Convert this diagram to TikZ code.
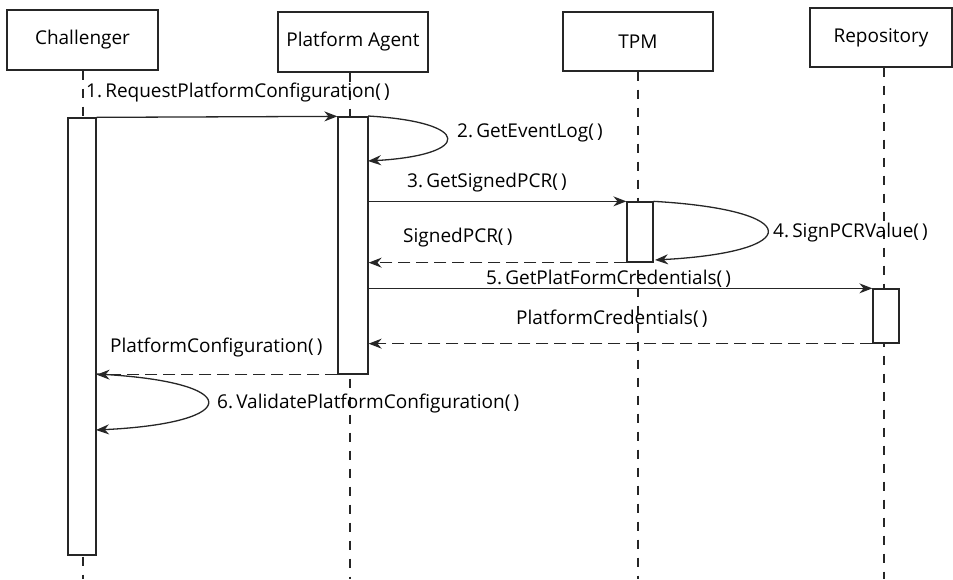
\documentclass[tikz,border=0pt]{standalone}
\usepackage{fontspec}
\setmainfont{Open Sans}
\usetikzlibrary{arrows.meta}
\begin{document}
\begin{tikzpicture}[x=1pt,y=-1pt,
  lifebox/.style={draw=black!85,line width=1.3pt,fill=white,inner sep=0pt,font=\fontsize{19}{22}\selectfont},
  actbox/.style={draw=black!85,line width=1.3pt,fill=white,inner sep=0pt},
  lifeline/.style={draw=black!85,line width=1.2pt,dash pattern=on 9pt off 9pt},
  msg/.style={draw=black!85,line width=1.3pt,-{Stealth[length=13pt,width=10pt]}},
  ret/.style={msg,dash pattern=on 12pt off 6pt},
  lbl/.style={inner sep=0pt,anchor=base west,font=\fontsize{19}{22}\selectfont}]
\useasboundingbox (0,0) rectangle (953,579);
% lifeline heads
\node[lifebox,minimum width=151pt,minimum height=60pt] (C) at (82.5,40) {Challenger};
\node[lifebox,minimum width=150pt,minimum height=60pt] (A) at (353,42) {Platform Agent};
\node[lifebox,minimum width=150pt,minimum height=59pt] (T) at (638,41.5) {TPM};
\node[lifebox,minimum width=142pt,minimum height=59pt] (R) at (881,37.5) {Repository};
% lifeline ends
\coordinate (Ce) at (83,579);
\coordinate (Ae) at (350,579);
\coordinate (Te) at (638,579);
\coordinate (Re) at (884,579);
\draw[lifeline] (C.south -| Ce) -- (Ce);
\draw[lifeline] (A.south -| Ae) -- (Ae);
\draw[lifeline] (T.south -| Te) -- (Te);
\draw[lifeline] (R.south -| Re) -- (Re);
% activations
\node[actbox,minimum width=28pt,minimum height=437pt] (aC) at (82,336.5) {};
\node[actbox,minimum width=30pt,minimum height=257pt] (aA) at (353,245.5) {};
\node[actbox,minimum width=26pt,minimum height=60pt] (aT) at (640,232) {};
\node[actbox,minimum width=26pt,minimum height=54pt] (aR) at (886,316) {};
% message anchors
\coordinate (m2s) at (368,116);
\coordinate (m2e) at (368,161);
\coordinate (m4e) at (655,260);
\coordinate (m6s) at (96,374);
\coordinate (m6e) at (96,430);
% 1
\draw[msg] (aC.north east) -- (aA.north west);
\node[lbl] (l1) at (86,97) {1.\,RequestPlatformConfiguration(\,)};
% 2
\draw[msg] (m2s) .. controls (473,122) and (473,155) .. (m2e);
\node[lbl] (l2) at (457,137) {2.\,GetEventLog(\,)};
% 3
\draw[msg] (aA.east |- aT.north) -- (aT.north west);
\node[lbl] (l3) at (407,187) {3.\,GetSignedPCR(\,)};
% 4
\draw[msg] (aT.north east) .. controls (805,210) and (805,252) .. (m4e);
\node[lbl] (l4) at (773,237) {4.\,SignPCRValue(\,)};
% return SignedPCR
\draw[ret] (aT.south west) -- (aA.east |- aT.south);
\node[lbl] (l4r) at (403,242) {SignedPCR(\,)};
% 5
\draw[msg] (aA.east |- aR.north) -- (aR.north west);
\node[lbl] (l5) at (486,284) {5.\,GetPlatFormCredentials(\,)};
% return PlatformCredentials
\draw[ret] (aR.south west) -- (aA.east |- aR.south);
\node[lbl] (l5r) at (516,324) {PlatformCredentials(\,)};
% return PlatformConfiguration
\draw[ret] (aA.south west) -- (aC.east |- aA.south);
\node[lbl] (l1r) at (110,352) {PlatformConfiguration(\,)};
% 6
\draw[msg] (m6s) .. controls (245,381) and (245,423) .. (m6e);
\node[lbl] (l6) at (217,408) {6.\,ValidatePlatformConfiguration(\,)};
\end{tikzpicture}
\end{document}
